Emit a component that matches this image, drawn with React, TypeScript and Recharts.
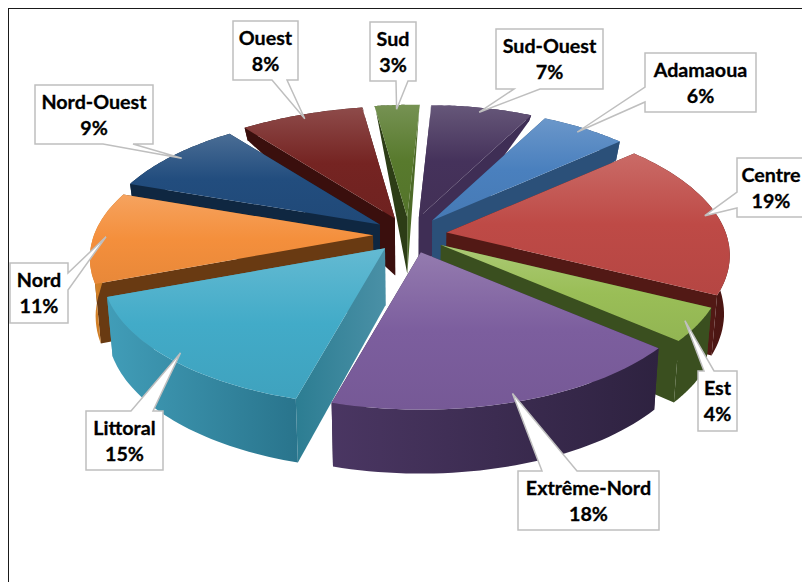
import React from 'react';
import { PieChart, Pie } from 'recharts';

const regions = ['Adamaoua', 'Centre', 'Est', 'Extrême-Nord', 'Littoral', 'Nord', 'Nord-Ouest', 'Ouest', 'Sud', 'Sud-Ouest'];
const shares = [6, 19, 4, 18, 15, 11, 9, 8, 3, 7];
const tableData = regions.map((name, i) => ({ name, value: shares[i] }));

const topColors = ['#4A80BE', '#BE4A46', '#9ABE57', '#7C5E9E', '#42ABC8', '#F48F3C', '#224D7E', '#752422', '#587A2D', '#45325B'];
const wallStart = ['#2B5079', '#521915', '#3A4F1F', '#33243F', '#4A90A6', '#693A12', '#0F2741', '#3A0F0D', '#2D3D16', '#3F2E55'];
const wallFar = ['#2B5079', '#521915', '#3A4F1F', '#33243F', '#2C7D92', '#693A12', '#0F2741', '#3A0F0D', '#2D3D16', '#3F2E55'];
const wallEnd = ['#2B5079', '#521915', '#3A4F1F', '#33243F', '#4A90A6', '#693A12', '#0F2741', '#3A0F0D', '#4D6A28', '#3F2E55'];
const outerLeft = ['#2B5079', '#551A18', '#3A4F1F', '#4A3662', '#419DB8', '#D98428', '#0F2741', '#3A0F0D', '#2D3D16', '#3F2E55'];
const outerRight = ['#2B5079', '#4A1512', '#3A4F1F', '#2E2240', '#29748C', '#B06A20', '#0F2741', '#3A0F0D', '#2D3D16', '#3F2E55'];

// painter's order: back slices first
const drawOrder = ['Sud', 'Sud-Ouest', 'Ouest', 'Adamaoua', 'Nord-Ouest', 'Centre', 'Nord', 'Est', 'Littoral', 'Extrême-Nord'];

// callout boxes: [x, y, w, h, side, baseA, baseB]
const calloutLayout: Record<string, [number, number, number, number, string, number, number]> = {
  Adamaoua: [645, 53, 111, 59, 'left', 87, 102],
  Centre: [737, 158, 68, 59, 'left', 192, 208],
  Est: [698, 371, 39, 60, 'top', 704, 714],
  'Extrême-Nord': [518, 471, 141, 59, 'top', 542, 577],
  Littoral: [86, 411, 77, 59, 'top', 131, 153],
  Nord: [10, 263, 58, 60, 'right', 273, 290],
  'Nord-Ouest': [35, 85, 118, 59, 'bottom', 103, 133],
  Ouest: [233, 21, 65, 59, 'bottom', 272, 287],
  Sud: [370, 22, 46, 59, 'bottom', 396, 408],
  'Sud-Ouest': [496, 29, 107, 60, 'bottom', 514, 540],
};

const CX = 410;
const CY = 235;
const RX = 279;
const RY_RATIO = 0.47;
const PERSPECTIVE_Y = 0.167;
const PERSPECTIVE_X = 0.17;
const BACK_SKEW = 8;
const EXPLODE_X = 37;
const EXPLODE_Y = 18;
const DEPTH = 57;
const STEPS = 40;

const mix = (hex: string, target: number, t: number) => {
  const n = parseInt(hex.slice(1), 16);
  const ch = [(n >> 16) & 255, (n >> 8) & 255, n & 255].map((c) => Math.round(c + (target - c) * t));
  return `rgb(${ch.join(',')})`;
};

const rel = (theta: number, r: number, rx: number) => {
  const a = (theta * Math.PI) / 180;
  const X = Math.sin(a) * r;
  const Y = -Math.cos(a) * r;
  const fx = 1 / (1 - PERSPECTIVE_X * Y);
  const fy = 1 / (1 - PERSPECTIVE_Y * Y);
  return { x: X * rx * fx + (Y < 0 ? BACK_SKEW * Y ** 4 : 0), y: Y * rx * RY_RATIO * fy, Y };
};

const apexOf = (cx: number, cy: number, mid: number) => {
  const a = (mid * Math.PI) / 180;
  return { x: cx + EXPLODE_X * Math.sin(a), y: cy - EXPLODE_Y * Math.cos(a) };
};

const lower = (p: { x: number; y: number; Y: number }, cx: number) => {
  const d = p.Y < 0 ? DEPTH * (1 + p.Y) : DEPTH + 7 * p.Y;
  return { x: p.x - (p.x - cx) * 0.018, y: p.y + d };
};

const toPath = (pts: { x: number; y: number }[]) =>
  pts.map((p, i) => `${i ? 'L' : 'M'}${p.x.toFixed(1)},${p.y.toFixed(1)}`).join('') + 'Z';

const Slice = (props: any) => {
  const { cx, cy, outerRadius, startAngle, endAngle, idx } = props;
  const t0 = 90 - startAngle;
  const t1 = 90 - endAngle;
  const apex = apexOf(cx, cy, (t0 + t1) / 2);
  const arc: any[] = [];
  for (let i = 0; i <= STEPS; i++) {
    const p = rel(t0 + ((t1 - t0) * i) / STEPS, 1, outerRadius);
    arc.push({ x: apex.x + p.x, y: apex.y + p.y, Y: p.Y });
  }
  const arcLow = arc.map((p) => lower(p, cx));
  const apexLow = lower({ ...apex, Y: 0 }, cx);
  const base = topColors[idx];
  return (
    <g>
      <defs>
        <linearGradient id={`top${idx}`} x1="0" y1="0" x2="0" y2="1">
          <stop offset="0" stopColor={mix(base, 255, 0.18)} />
          <stop offset="0.5" stopColor={base} />
          <stop offset="1" stopColor={mix(base, 0, 0.05)} />
        </linearGradient>
        <linearGradient id={`out${idx}`} x1="0" y1="0" x2="1" y2="0">
          <stop offset="0" stopColor={outerLeft[idx]} />
          <stop offset="1" stopColor={outerRight[idx]} />
        </linearGradient>
        <linearGradient id={`wall${idx}`} x1="0" y1="0" x2="1" y2="0">
          <stop offset="0" stopColor={wallFar[idx]} />
          <stop offset="1" stopColor={wallStart[idx]} />
        </linearGradient>
      </defs>
      <path d={toPath([apex, arc[STEPS], arcLow[STEPS], apexLow])} fill={wallEnd[idx]} />
      <path d={toPath([apex, arc[0], arcLow[0], apexLow])} fill={`url(#wall${idx})`} />
      <path d={toPath([...arc, ...arcLow.slice().reverse()])} fill={`url(#out${idx})`} />
      <path d={toPath([apex, ...arc])} fill={`url(#top${idx})`} />
    </g>
  );
};

const FONT = 'Lato, "Open Sans", sans-serif';

const Callout = (props: any) => {
  const { cx, cy, outerRadius, midAngle, percent, name } = props;
  const layout = calloutLayout[name];
  if (!layout) return null;
  const [x, y, w, h, side, a, b] = layout;
  const theta = 90 - midAngle;
  const apex = apexOf(cx, cy, theta);
  const t = rel(theta, 0.955, outerRadius);
  const tip = { x: apex.x + t.x, y: apex.y + t.y };
  const r = x + w;
  const bt = y + h;
  let pts: { x: number; y: number }[] = [];
  if (side === 'top') pts = [{ x, y }, { x: a, y }, tip, { x: b, y }, { x: r, y }, { x: r, y: bt }, { x, y: bt }];
  if (side === 'bottom') pts = [{ x, y }, { x: r, y }, { x: r, y: bt }, { x: b, y: bt }, tip, { x: a, y: bt }, { x, y: bt }];
  if (side === 'left') pts = [{ x, y }, { x: r, y }, { x: r, y: bt }, { x, y: bt }, { x, y: b }, tip, { x, y: a }];
  if (side === 'right') pts = [{ x, y }, { x: r, y }, { x: r, y: a }, tip, { x: r, y: b }, { x: r, y: bt }, { x, y: bt }];
  const tx = x + w / 2;
  const textStyle = { fontFamily: FONT, fontWeight: 700, fontSize: 19.7, fill: '#000', stroke: '#000', strokeWidth: 0.3 };
  return (
    <g>
      <path d={toPath(pts)} fill="#fff" stroke="#BFBFBF" strokeWidth={1.5} />
      <text x={tx} y={y + 24} textAnchor="middle" {...textStyle}>{name}</text>
      <text x={tx} y={y + 50} textAnchor="middle" {...textStyle}>{`${Math.round(percent * 100)}%`}</text>
    </g>
  );
};

const pieCommon = {
  data: tableData,
  dataKey: 'value',
  nameKey: 'name',
  cx: CX,
  cy: CY,
  innerRadius: 0,
  outerRadius: RX,
  startAngle: 63.7,
  endAngle: -296.3,
  paddingAngle: 0,
  stroke: 'none',
  isAnimationActive: false,
  labelLine: false,
  legendType: 'none' as const,
};

export default function App() {
  return (
    <div style={{ position: 'absolute', left: 0, top: 0, width: 802, height: 582, overflow: 'hidden', background: '#fff' }}>
      <div style={{ position: 'absolute', left: 8, top: 8, width: 820, height: 620, border: '1.5px solid #1a1a1a', boxSizing: 'border-box' }} />
      <div style={{ position: 'absolute', left: 0, top: 0 }}>
        <PieChart width={802} height={582} margin={{ top: 0, right: 0, bottom: 0, left: 0 }} style={{ overflow: 'visible' }}>
          {drawOrder.map((n) => (
            <Pie
              key={n}
              {...pieCommon}
              shape={(p: any) => {
                const idx = regions.indexOf(p.name ?? p.payload?.name);
                return regions[idx] === n ? <Slice {...p} idx={idx} /> : <g />;
              }}
            />
          ))}
          <Pie key="callouts" {...pieCommon} shape={() => <g />} label={(p: any) => <Callout {...p} />} />
        </PieChart>
      </div>
    </div>
  );
}
